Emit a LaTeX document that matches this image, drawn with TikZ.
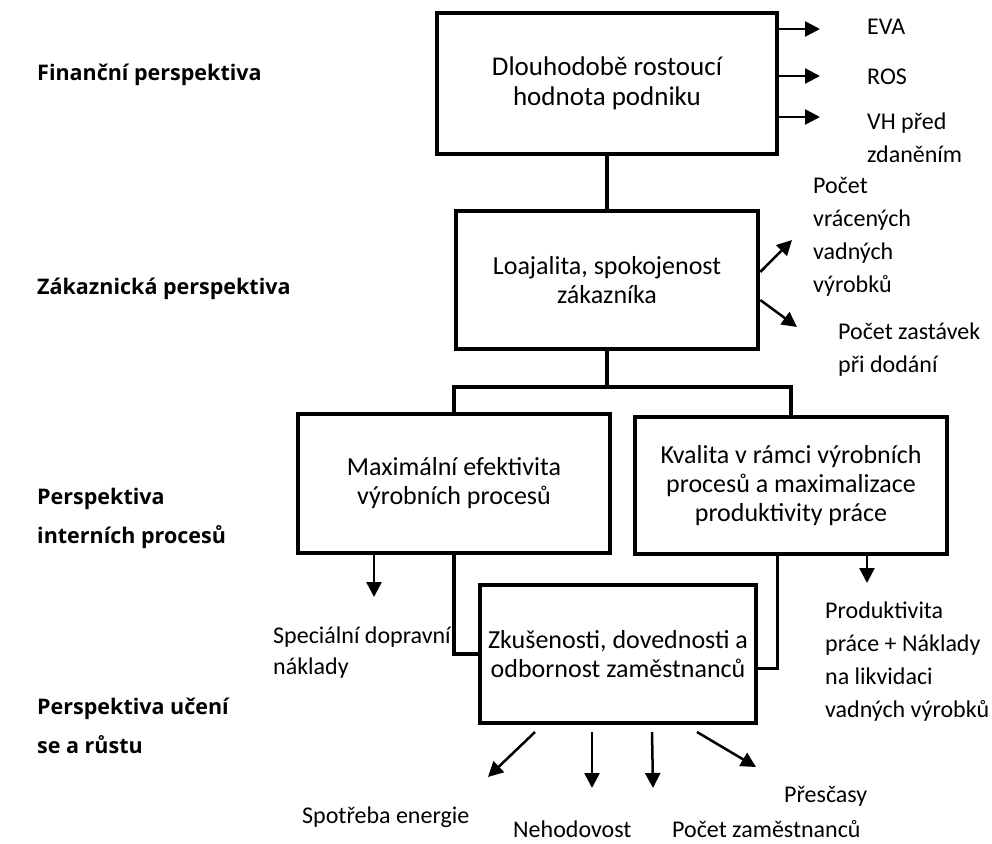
\documentclass[tikz,border=0pt]{standalone}
\usepackage{fontspec}
\setmainfont{Carlito}
\newfontfamily\persfont{Open Sans}
\usetikzlibrary{arrows.meta}
\begin{document}
\begin{tikzpicture}[x=1pt,y=-1pt,
  box/.style={draw,line width=4.5pt,inner sep=2pt,align=center,font=\fontsize{26}{29}\selectfont},
  conn/.style={line width=4pt},
  thinconn/.style={line width=3pt},
  arr/.style={line width=2.5pt,-{Triangle[length=15pt,width=15pt]}},
  lab/.style={anchor=west,align=left,inner sep=0pt,font=\fontsize{24}{33}\selectfont},
  pers/.style={anchor=west,align=left,inner sep=0pt,font=\persfont\bfseries\fontsize{21.5}{39}\selectfont}]
\useasboundingbox (0,0) rectangle (992,843);

% perspectives
\node[pers] (p1) at (37,75) {Finanční perspektiva};
\node[pers] (p2) at (37,289) {Zákaznická perspektiva};
\node[pers] (p3) at (37,518) {Perspektiva\\interních procesů};
\node[pers] (p4) at (37,726) {Perspektiva učení\\se a růstu};

% boxes
\node[box,minimum width=340pt,minimum height=141pt,font=\fontsize{27}{30}\selectfont] (b1) at (607,83.5) {Dlouhodobě rostoucí\\hodnota podniku};
\node[box,minimum width=302pt,minimum height=138pt] (b2) at (607,280) {Loajalita, spokojenost\\zákazníka};
\node[box,minimum width=312pt,minimum height=139pt] (b3) at (454,483.5) {Maximální efektivita\\výrobních procesů};
\node[box,minimum width=312pt,minimum height=137pt] (b4) at (791,485.5) {Kvalita v rámci výrobních\\procesů a maximalizace\\produktivity práce};
\node[box,minimum width=276pt,minimum height=138pt,inner sep=0pt] (b5) at (618,654) {Zkušenosti, dovednosti a\\odbornost zaměstnanců};

% tree connectors
\coordinate (j) at (607,387);
\draw[conn] (b1.south) -- (b2.north);
\draw[conn] (b2.south) -- (j);
\draw[conn] (b3.north) |- (j) -| (b4.north);
\draw[conn] (b3.south) |- (b5.west);
\coordinate (k) at (777,668);
\draw[thinconn] (b4.south -| k) -- (k) -- (b5.east |- k);

% financial measures
\coordinate (tEVA) at (820,29);
\coordinate (tROS) at (820,76);
\coordinate (tVH) at (820,117);
\draw[arr] (b1.east |- tEVA) -- (tEVA);
\draw[arr] (b1.east |- tROS) -- (tROS);
\draw[arr] (b1.east |- tVH) -- (tVH);
\node[lab] (lEVA) at (867,27) {EVA};
\node[lab] (lROS) at (867,77) {ROS};
\node[lab] (lVH) at (867,137.5) {VH před\\zdaněním};

% customer measures
\coordinate (tQ1) at (792,240);
\coordinate (tQ2) at (797,327);
\draw[arr] ([yshift=8pt]b2.east) -- (tQ1);
\draw[arr] ([yshift=-20pt]b2.east) -- (tQ2);
\node[lab] (lQ1) at (813,237) {Počet\\vrácených\\vadných\\výrobků};
\node[lab] (lQ2) at (838,350) {Počet zastávek\\při dodání};

% internal process measures
\coordinate (tS) at (374,597);
\coordinate (tP) at (867,583);
\draw[arr] (tS |- b3.south) -- (tS);
\draw[arr] (tP |- b4.south) -- (tP);
\node[lab,font=\fontsize{24}{31}\selectfont] (lS) at (273,652.5) {Speciální dopravní\\náklady};
\node[lab] (lP) at (825,662) {Produktivita\\práce + Náklady\\na likvidaci\\vadných výrobků};

% learning measures
\coordinate (s1) at (535,732); \coordinate (t1) at (488,777);
\coordinate (s2) at (592,732); \coordinate (t2) at (592,788);
\coordinate (s3) at (652,732); \coordinate (t3) at (653,788);
\coordinate (s4) at (697,732); \coordinate (t4) at (756,767);
\draw[arr] (s1) -- (t1);
\draw[arr] (s2) -- (t2);
\draw[arr] (s3) -- (t3);
\draw[arr] (s4) -- (t4);
\node[lab] (lE) at (302,817) {Spotřeba energie};
\node[lab] (lN) at (513,829) {Nehodovost};
\node[lab] (lZ) at (672,829) {Počet zaměstnanců};
\node[lab] (lO) at (784,796) {Přesčasy};
\end{tikzpicture}
\end{document}
